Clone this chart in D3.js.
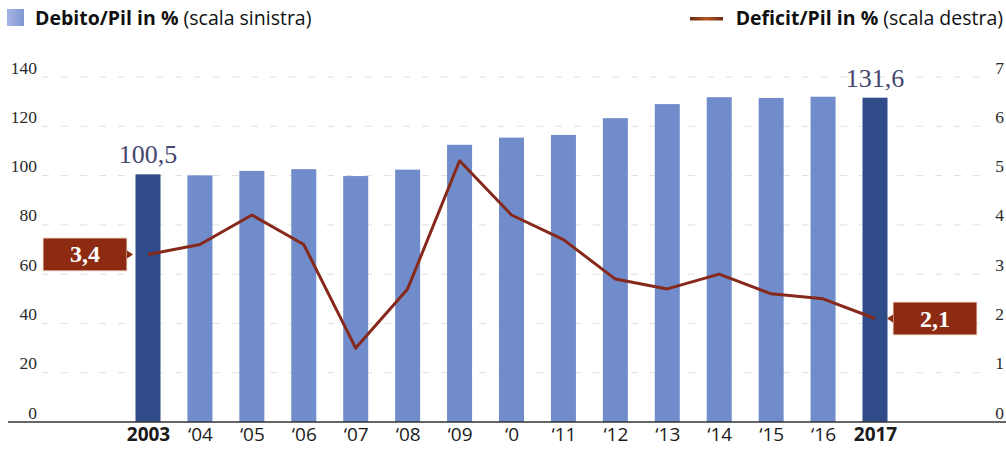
<!DOCTYPE html>
<html>
<head>
<meta charset="utf-8">
<script src="https://cdn.jsdelivr.net/npm/d3@7/dist/d3.min.js"></script>
<style>
html,body{margin:0;padding:0;background:#fff;}
svg{display:block;}
</style>
</head>
<body>
<svg id="chart" width="1006" height="454"></svg>
<script>
const years = [2003,2004,2005,2006,2007,2008,2009,2010,2011,2012,2013,2014,2015,2016,2017];
const yearLabels = ["2003","\u201804","\u201805","\u201806","\u201807","\u201808","\u201809","\u20180","\u201811","\u201812","\u201813","\u201814","\u201815","\u201816","2017"];
const debt = [100.5,100.1,101.9,102.6,99.8,102.4,112.5,115.4,116.5,123.3,129.0,131.8,131.5,132.0,131.6];
const deficit = [3.4,3.6,4.2,3.6,1.5,2.7,5.3,4.2,3.7,2.9,2.7,3.0,2.6,2.5,2.1];
const leftTicks = [0,20,40,60,80,100,120,140];
const rightTicks = [0,1,2,3,4,5,6,7];
const debtLabels = [{i:0, text:"100,5"},{i:14, text:"131,6"}];
const deficitLabels = [{i:0, text:"3,4", side:"left"},{i:14, text:"2,1", side:"right"}];

const svg = d3.select("#chart");
const x = d3.scalePoint().domain(years).range([148, 875]);
const yL = d3.scaleLinear().domain([0,140]).range([422, 77]);
const yR = d3.scaleLinear().domain([0,7]).range([422, 77]);
const barW = 25;
const serif = "'Liberation Serif', 'DejaVu Serif', serif";
const sans = "'Open Sans', 'Noto Sans', sans-serif";

// gridlines
svg.append("g").selectAll("line").data(leftTicks.filter(t => t > 0)).join("line")
  .attr("x1", 42).attr("x2", 990)
  .attr("y1", d => yL(d)).attr("y2", d => yL(d))
  .attr("stroke", "#e0e0e0").attr("stroke-width", 1).attr("stroke-dasharray", "7,12");

// left axis
const gL = svg.append("g").attr("transform", "translate(37,-4)")
  .call(d3.axisLeft(yL).tickValues(leftTicks).tickSize(0).tickPadding(0).tickFormat(d3.format("d")));
gL.select(".domain").remove();
gL.selectAll("text").attr("dy", 0)
  .attr("font-family", serif).attr("font-size", 17.5).attr("fill", "#2a2a2a");

// right axis
const gR = svg.append("g").attr("transform", "translate(1004,-4)")
  .call(d3.axisLeft(yR).tickValues(rightTicks).tickSize(0).tickPadding(0).tickFormat(d3.format("d")));
gR.select(".domain").remove();
gR.selectAll("text").attr("dy", 0)
  .attr("font-family", serif).attr("font-size", 17.5).attr("fill", "#2a2a2a");

// bars
svg.append("g").selectAll("rect").data(years).join("rect")
  .attr("x", d => x(d) - barW/2)
  .attr("width", barW)
  .attr("y", (d,i) => yL(debt[i]))
  .attr("height", (d,i) => yL(0) - yL(debt[i]))
  .attr("fill", (d,i) => (i === 0 || i === years.length-1) ? "#2f4c88" : "#718cca");

// baseline
svg.append("line").attr("x1", 8).attr("x2", 1006)
  .attr("y1", yL(0)).attr("y2", yL(0))
  .attr("stroke", "#333").attr("stroke-width", 1.5);

// x axis
const gX = svg.append("g").attr("transform", `translate(0,${yL(0)})`)
  .call(d3.axisBottom(x).tickSize(0).tickPadding(5).tickFormat((d,i) => yearLabels[i]));
gX.select(".domain").remove();
gX.selectAll("text")
  .attr("font-family", sans)
  .attr("font-size", 19)
  .attr("font-weight", (d,i) => (i === 0 || i === years.length-1) ? 700 : 400)
  .attr("fill", "#1a1a1a");

// deficit line
const line = d3.line().x((d,i) => x(years[i])).y(d => yR(d));
svg.append("path").datum(deficit)
  .attr("d", line)
  .attr("fill", "none")
  .attr("stroke", "#86291a")
  .attr("stroke-width", 3)
  .attr("stroke-linejoin", "round");

// debt value labels
svg.append("g").selectAll("text").data(debtLabels).join("text")
  .attr("x", d => x(years[d.i]))
  .attr("y", d => yL(debt[d.i]) - 11)
  .attr("text-anchor", "middle")
  .attr("font-family", serif)
  .attr("font-size", 26)
  .attr("fill", "#46466e")
  .text(d => d.text);

// deficit labels boxes
const boxW = 84, boxH = 33;
deficitLabels.forEach(d => {
  const px = x(years[d.i]), py = yR(deficit[d.i]);
  const bx = d.side === "left" ? px - 105 : px + 18;
  const g = svg.append("g");
  g.append("rect").attr("x", bx).attr("y", py - boxH/2).attr("width", boxW).attr("height", boxH)
    .attr("fill", "#8c2a12").attr("stroke", "#f3e4d6").attr("stroke-width", 1);
  const tip = d.side === "left"
    ? [[bx+boxW, py-4],[bx+boxW+6, py],[bx+boxW, py+4]]
    : [[bx, py-4],[bx-6, py],[bx, py+4]];
  g.append("path").attr("d", d3.line()(tip) + "Z").attr("fill", "#8c2a12");
  g.append("text").attr("x", bx + boxW/2).attr("y", py + 8)
    .attr("text-anchor", "middle")
    .attr("font-family", serif)
    .attr("font-size", 24).attr("font-weight", 700).attr("fill", "#fff")
    .text(d.text);
});

// legend left
const defs = svg.append("defs");
const lg = defs.append("linearGradient").attr("id", "lgIcon").attr("x1", 0).attr("x2", 1);
lg.append("stop").attr("offset", "0%").attr("stop-color", "#a7b3e6");
lg.append("stop").attr("offset", "100%").attr("stop-color", "#7f98d2");
svg.append("rect").attr("x", 7).attr("y", 9).attr("width", 17).attr("height", 17).attr("fill", "url(#lgIcon)");
const t1 = svg.append("text").attr("x", 35).attr("y", 25)
  .attr("font-family", sans).attr("font-size", 19.5).attr("fill", "#111");
t1.append("tspan").attr("font-weight", 700).text("Debito/Pil in %");
t1.append("tspan").attr("font-weight", 400).text(" (scala sinistra)");

// legend right
const lg2 = defs.append("linearGradient").attr("id", "lgLine").attr("x1", 0).attr("x2", 1);
lg2.append("stop").attr("offset", "0%").attr("stop-color", "#6b2a14");
lg2.append("stop").attr("offset", "50%").attr("stop-color", "#b4551f");
lg2.append("stop").attr("offset", "100%").attr("stop-color", "#6b2a14");
svg.append("rect").attr("x", 690).attr("y", 17).attr("width", 33).attr("height", 3.5).attr("fill", "url(#lgLine)");
const t2 = svg.append("text").attr("x", 1003).attr("y", 25).attr("text-anchor", "end")
  .attr("font-family", sans).attr("font-size", 19.5).attr("fill", "#111");
t2.append("tspan").attr("font-weight", 700).text("Deficit/Pil in %");
t2.append("tspan").attr("font-weight", 400).text(" (scala destra)");
</script>
</body>
</html>
